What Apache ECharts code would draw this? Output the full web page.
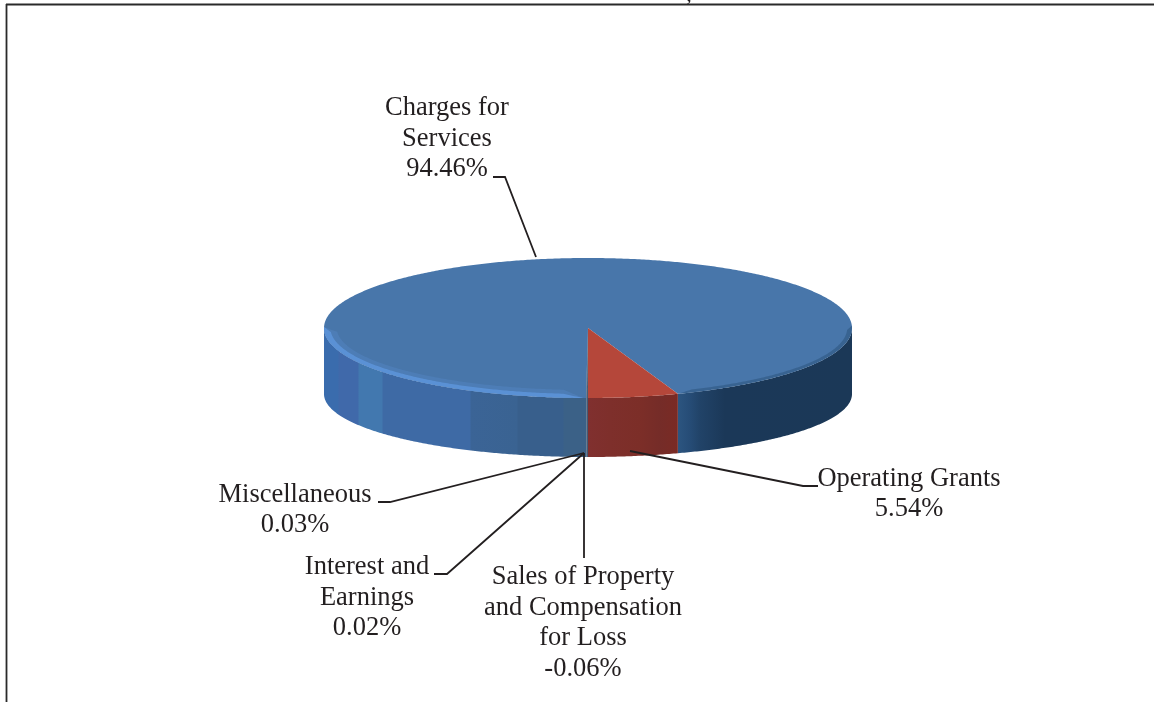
<!DOCTYPE html>
<html>
<head>
<meta charset="utf-8">
<style>html,body{margin:0;padding:0;background:#fff}#chart{width:1154px;height:702px}</style>
<script src="https://cdn.jsdelivr.net/npm/echarts@6/dist/echarts.min.js"></script>
</head>
<body>
<div id="chart"></div>
<script>
// Revenue shares, in drawing order around the disc.
const categories = ['Charges for\nServices', 'Operating Grants', 'Sales of Property\nand Compensation\nfor Loss', 'Interest and\nEarnings', 'Miscellaneous'];
const shares = [94.46, 5.54, -0.06, 0.02, 0.03];
const sliceColors = ['#4876aa', '#b5473a', '#2f4a68', '#2f4a68', '#2f4a68'];

// Where each label sits and how its leader line runs.
const labelCentres = [[447, 139], [909, 494], [583, 623], [367, 598], [295, 510]];
const leaders = [
  [[493, 177], [505, 177], [536, 257]],
  [[818, 486], [803, 486], [630, 451]],
  [[584, 558], [584, 453]],
  [[434, 574], [447, 574], [584, 453]],
  [[378, 502], [390, 502], [584, 453]]
];

// Disc geometry in pixels.
const disc = { cx: 588, cy: 328, rx: 264, ry: 70, baseCy: 394, baseRy: 63 };

const magnitudes = shares.map(Math.abs);
const total = magnitudes.reduce((a, b) => a + b, 0);
const sweeps = magnitudes.map(v => v / total * 360);
const firstStart = 160.1 - sweeps[0];
const rows = [];
let running = firstStart;
shares.forEach((v, i) => {
  rows.push([i, v, running, running + sweeps[i]]);
  running += sweeps[i];
});

function onEllipse(deg, cy, ry, shrink) {
  const a = deg * Math.PI / 180;
  return [disc.cx + (disc.rx - shrink) * Math.sin(a), cy - ry * Math.cos(a)];
}
function arcPoints(from, to, cy, ry) {
  const pts = [];
  const steps = Math.max(2, Math.ceil(Math.abs(to - from) / 0.5));
  for (let k = 0; k <= steps; k++) pts.push(onEllipse(from + (to - from) * k / steps, cy, ry, 0));
  return pts;
}
// A crescent lying just inside the rim, tapering to nothing at both ends.
function crescent(from, to, width) {
  const outer = arcPoints(from, to, disc.cy, disc.ry);
  const inner = [];
  const steps = outer.length - 1;
  for (let k = steps; k >= 0; k--) {
    const deg = from + (to - from) * k / steps;
    const t = Math.min(1, Math.min(k, steps - k) / (steps * 0.05));
    const w = width * t;
    inner.push(onEllipse(deg, disc.cy, disc.ry - w, w * 1.6));
  }
  return outer.concat(inner);
}
// Front half of the rim runs from 90 to 270 degrees, clockwise from the top.
function frontRanges(a, b) {
  const out = [];
  for (let shift = -360; shift <= 360; shift += 360) {
    const lo = Math.max(a, 90 + shift), hi = Math.min(b, 270 + shift);
    if (hi > lo) out.push([lo, hi]);
  }
  return out;
}
function bands(list) {
  const w = disc.rx * 2, x0 = disc.cx - disc.rx, stops = [];
  list.forEach(([x, c]) => stops.push({ offset: Math.min(1, Math.max(0, (x - x0) / w)), color: c }));
  return new echarts.graphic.LinearGradient(x0, 0, x0 + w, 0, stops, true);
}
const blueWall = bands([
  [324, '#3a6cad'], [338, '#3a6cad'], [339, '#4069aa'], [358, '#4069aa'], [359, '#4278af'], [382, '#4278af'],
  [383, '#3e6aa5'], [470, '#3e6aa5'], [471, '#3b6496'], [517, '#3a6392'], [518, '#385f8c'], [563, '#385f8c'],
  [564, '#3b6187'], [588, '#3b6187'], [678, '#2c5580'], [690, '#264c76'], [700, '#214368'], [725, '#1b3858'], [852, '#1b3857']
]);
const redWall = bands([[588, '#80302f'], [610, '#7e2f2b'], [640, '#7c2e28'], [660, '#752c28'], [678, '#7a2a24']]);

function renderSlice(params, api) {
  const i = api.value(0), a = api.value(2), b = api.value(3);
  const children = [];
  const wallFill = i === 0 ? blueWall : i === 1 ? redWall : sliceColors[i];
  frontRanges(a, b).forEach(([lo, hi]) => {
    const upper = arcPoints(lo, hi, disc.cy, disc.ry);
    const lower = arcPoints(hi, lo, disc.baseCy, disc.baseRy);
    children.push({ type: 'polygon', shape: { points: upper.concat(lower) }, style: { fill: wallFill }, z2: 1 });
  });
  const wedge = [[disc.cx, disc.cy]].concat(arcPoints(a, b, disc.cy, disc.ry));
  children.push({ type: 'polygon', shape: { points: wedge }, style: { fill: sliceColors[i] }, z2: 2 });
  // Bevelled edge of the blue slice: bright on the left, a faint shade on the right.
  if (i === 0) {
    children.push({ type: 'polygon', shape: { points: crescent(181, 271, 8) }, style: { fill: '#5283c0', opacity: 0.55 }, z2: 3 });
    children.push({ type: 'polygon', shape: { points: crescent(181, 271, 4) }, style: { fill: '#5c93d8', opacity: 0.9 }, z2: 4 });
    children.push({ type: 'polygon', shape: { points: crescent(88, 160, 3) }, style: { fill: '#2f5680', opacity: 0.6 }, z2: 3 });
  }
  return { type: 'group', children };
}

function formatShare(v) { return v.toFixed(2) + '%'; }

const labelGraphics = categories.map((name, i) => ({
  type: 'text',
  x: labelCentres[i][0],
  y: labelCentres[i][1],
  z: 20,
  style: {
    text: name + '\n' + formatShare(shares[i]),
    fill: '#231f20',
    font: '26.5px "Liberation Serif"',
    lineHeight: 30.5,
    align: 'center',
    verticalAlign: 'middle'
  }
}));
const leaderGraphics = leaders.map(points => ({
  type: 'polyline',
  z: 15,
  shape: { points },
  style: { stroke: '#231f20', lineWidth: 1.8, fill: null }
}));
const frameGraphics = [
  { type: 'line', z: 15, shape: { x1: 6, y1: 4.5, x2: 1154, y2: 4.5 }, style: { stroke: '#2a2a2a', lineWidth: 2 } },
  { type: 'line', z: 15, shape: { x1: 6.5, y1: 4, x2: 6.5, y2: 702 }, style: { stroke: '#2a2a2a', lineWidth: 1.8 } },
  // Tail of the heading's comma, which runs off the top edge of the page.
  { type: 'text', z: 15, x: 689, y: -5, style: { text: ',', fill: '#231f20', font: '22px "Liberation Serif"', align: 'center', verticalAlign: 'middle' } }
];

const chart = echarts.init(document.getElementById('chart'), null, { renderer: 'canvas' });
chart.setOption({
  animation: false,
  backgroundColor: '#fff',
  graphic: { elements: frameGraphics.concat(leaderGraphics, labelGraphics) },
  series: [{
    type: 'custom',
    coordinateSystem: 'none',
    renderItem: renderSlice,
    data: rows,
    silent: true
  }]
});
</script>
</body>
</html>
